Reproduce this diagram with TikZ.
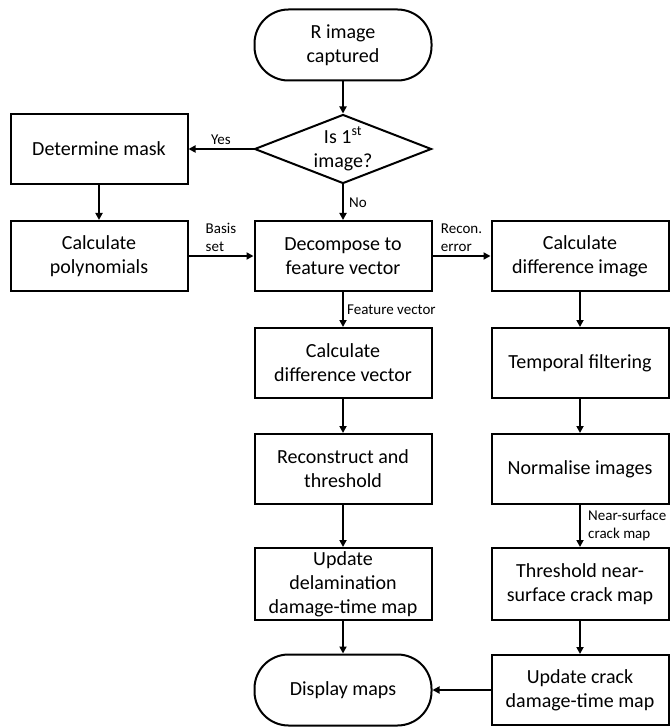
\documentclass[tikz,border=0pt]{standalone}
\usepackage{fontspec}
\setmainfont{Carlito}
\usetikzlibrary{shapes.geometric,arrows.meta}

\begin{document}
\begin{tikzpicture}[x=1pt, y=-1pt,
	box/.style={draw, line width=2pt, minimum width=177pt, minimum height=70pt, align=center, font=\fontsize{20}{24}\selectfont},
	term/.style={box, rounded corners=34pt, minimum height=71pt},
	decision/.style={box, diamond, aspect=2.5, inner sep=0pt, minimum height=69pt},
	arr/.style={line width=1.8pt, -{Triangle[length=7pt,width=7pt]}},
	lbl/.style={font=\fontsize{15}{18}\selectfont, align=left}]

	\useasboundingbox (0,0) rectangle (671,727);

	% start and decision
	\node[term] (capture) at (343,45) {R image\\captured};
	\node[decision] (first) at (343,149) {Is 1\textsuperscript{st}\\image?};

	% left column
	\node[box] (mask) at (99,149) {Determine mask};
	\node[box] (poly) at (99,256) {Calculate\\polynomials};

	% middle column
	\node[box] (decomp) at (343,256) {Decompose to\\feature vector};
	\node[box] (diffvec) at (343,363) {Calculate\\difference vector};
	\node[box] (recon) at (343,469) {Reconstruct and\\threshold};
	\node[box, minimum height=72pt] (delam) at (343,584) {Update\\delamination\\damage-time map};
	\node[term] (display) at (343,690) {Display maps};

	% right column
	\node[box] (diffimg) at (580,256) {Calculate\\difference image};
	\node[box] (temporal) at (580,363) {Temporal filtering};
	\node[box] (normal) at (580,469) {Normalise images};
	\node[box, minimum height=72pt] (thresh) at (580,584) {Threshold near-\\surface crack map};
	\node[box] (ucrack) at (580,690) {Update crack\\damage-time map};

	% plain arrows
	\foreach \a/\b in {capture/first, mask/poly, diffvec/recon, recon/delam, delam/display,
			diffimg/temporal, temporal/normal, thresh/ucrack, ucrack/display}
		\draw[arr] (\a) -- (\b);

	% labelled arrows
	\draw[arr] (first) -- node[lbl, above] {Yes} (mask);
	\draw[arr] (first) -- node[lbl, right, xshift=2pt] {No} (decomp);
	\draw[arr] (poly) -- node[lbl, above] {Basis\\set} (decomp);
	\draw[arr] (decomp) -- node[lbl, above] {Recon.\\error} (diffimg);
	\draw[arr] (decomp) -- node[lbl, right] {Feature vector} (diffvec);
	\draw[arr] (normal) -- node[lbl, right, xshift=4pt] {Near-surface\\crack map} (thresh);

\end{tikzpicture}
\end{document}
